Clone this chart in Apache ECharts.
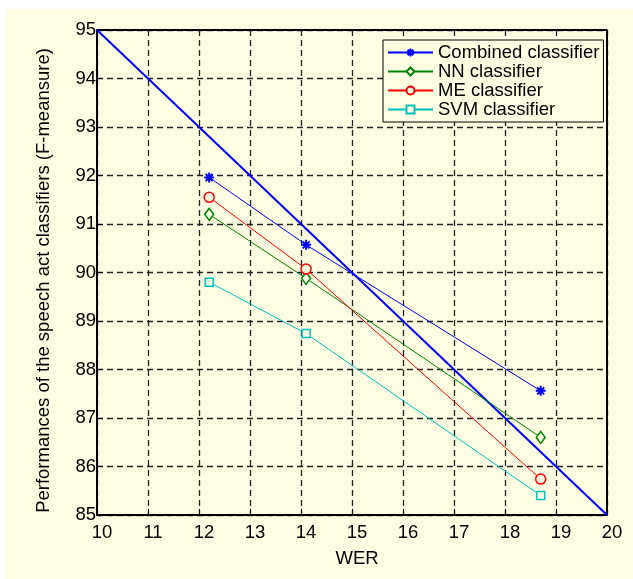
<!DOCTYPE html>
<html>
<head>
<meta charset="utf-8">
<script src="https://cdn.jsdelivr.net/npm/echarts@6/dist/echarts.min.js"></script>
<style>
  html, body { margin: 0; padding: 0; background: #ffffff; }
  #main { position: absolute; left: 6px; top: 9px; width: 627px; height: 570px; }
</style>
</head>
<body>
<div id="main"></div>
<script>
// WER values of the three test conditions
const wer = [12.2, 14.1, 18.7];
const combined = [91.96, 90.57, 87.56];
const nn = [91.2, 89.88, 86.6];
const me = [91.55, 90.07, 85.74];
const svm = [89.8, 88.74, 85.4];
// reference diagonal
const refX = [10, 20];
const refY = [95, 85];

const bg = '#fefee3';
const font = 'Liberation Sans, Arial, sans-serif';
const asterisk = 'path://M5,0L5,10M0,5L10,5M1.5,1.5L8.5,8.5M1.5,8.5L8.5,1.5';

const pairs = (xs, ys) => xs.map((x, i) => [x, ys[i]]);

const chartDom = document.getElementById('main');
const myChart = echarts.init(chartDom);

const option = {
  backgroundColor: bg,
  animation: false,
  textStyle: { fontFamily: font },
  grid: { left: 91, right: 26, top: 21, bottom: 64, containLabel: false },
  legend: {
    orient: 'vertical',
    left: 377,
    top: 31,
    data: ['Combined classifier', 'NN classifier', 'ME classifier', 'SVM classifier'],
    backgroundColor: bg,
    borderColor: '#000',
    borderWidth: 1,
    padding: [3, 4, 3, 4],
    itemGap: 0,
    itemWidth: 45,
    itemHeight: 10,
    textStyle: { fontSize: 18.5, color: '#000', fontFamily: font, lineHeight: 18 }
  },
  xAxis: {
    type: 'value',
    min: 10,
    max: 20,
    interval: 1,
    name: 'WER',
    nameLocation: 'middle',
    nameGap: 34,
    nameTextStyle: { fontSize: 18.5, color: '#000', padding: [0, 0, 0, 10] },
    axisLine: { show: true, onZero: false, lineStyle: { color: '#000', width: 2 } },
    axisTick: { show: true, inside: true, length: 6, lineStyle: { color: '#000' } },
    axisLabel: { fontSize: 18.5, color: '#000', margin: 8, padding: [0, 0, 0, 10] },
    splitLine: { show: true, lineStyle: { color: '#222', width: 1.3, type: [6, 4] } }
  },
  yAxis: {
    type: 'value',
    min: 85,
    max: 95,
    interval: 1,
    name: 'Performances of the speech act classifiers (F-meansure)',
    nameLocation: 'middle',
    nameGap: 44,
    nameTextStyle: { fontSize: 18.5, color: '#000', padding: [0, 16, 0, 0] },
    axisLine: { show: true, lineStyle: { color: '#000', width: 2 } },
    axisTick: { show: true, inside: true, length: 6, lineStyle: { color: '#000' } },
    axisLabel: { fontSize: 18.5, color: '#000', margin: 1, padding: [8, 0, 0, 0] },
    splitLine: { show: true, lineStyle: { color: '#222', width: 1.3, type: [6, 4] } }
  },
  series: [
    {
      name: 'reference',
      type: 'line',
      data: pairs(refX, refY),
      showSymbol: false,
      lineStyle: { color: '#0000ff', width: 2 },
      z: 1
    },
    {
      name: 'Combined classifier',
      type: 'line',
      data: pairs(wer, combined),
      symbol: asterisk,
      symbolSize: 10,
      lineStyle: { color: '#0000ff', width: 1 },
      itemStyle: { color: '#0000ff', borderColor: '#0000ff', borderWidth: 2 }
    },
    {
      name: 'NN classifier',
      type: 'line',
      data: pairs(wer, nn),
      symbol: 'diamond',
      symbolSize: [9, 12],
      lineStyle: { color: '#008000', width: 1 },
      itemStyle: { color: bg, borderColor: '#008000', borderWidth: 1.5 }
    },
    {
      name: 'ME classifier',
      type: 'line',
      data: pairs(wer, me),
      symbol: 'circle',
      symbolSize: 10,
      lineStyle: { color: '#ff0000', width: 1 },
      itemStyle: { color: bg, borderColor: '#ff0000', borderWidth: 1.5 }
    },
    {
      name: 'SVM classifier',
      type: 'line',
      data: pairs(wer, svm),
      symbol: 'rect',
      symbolSize: 8,
      lineStyle: { color: '#00bfbf', width: 1 },
      itemStyle: { color: bg, borderColor: '#00bfbf', borderWidth: 1.5 }
    },
    {
      // top and right frame of the box
      type: 'line',
      data: [[10, 95], [20, 95], [20, 85]],
      showSymbol: false,
      silent: true,
      lineStyle: { color: '#000', width: 2 },
      z: 0
    }
  ]
};
option && myChart.setOption(option);
</script>
</body>
</html>
